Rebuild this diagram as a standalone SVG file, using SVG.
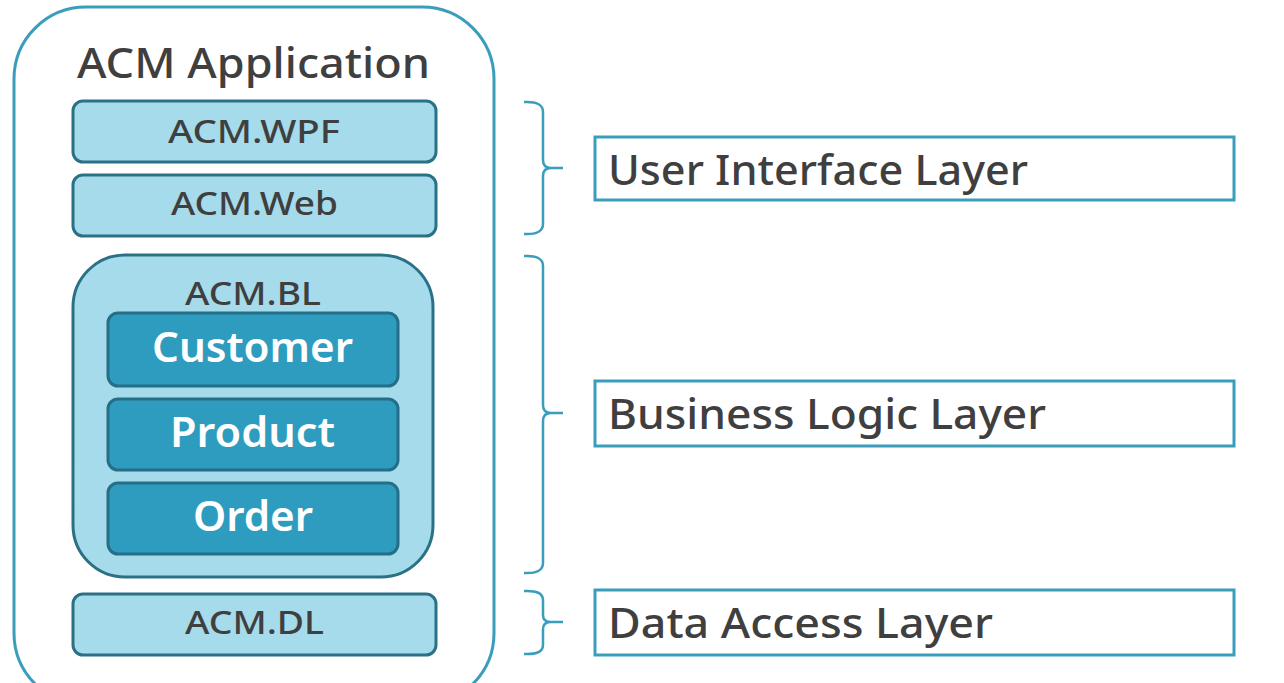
<svg xmlns="http://www.w3.org/2000/svg" width="1284" height="683" viewBox="0 0 1284 683">
<style>
.t{font-family:"Noto Sans","Open Sans",sans-serif;fill:#3f3f3f;text-anchor:middle;font-weight:500}
.w{font-family:"Noto Sans","Open Sans",sans-serif;fill:#ffffff;text-anchor:middle;font-weight:600;font-size:41px}
.lb{fill:#a6dbeb;stroke:#2a7186;stroke-width:3}
.db{fill:#2e9cbe;stroke:#246f87;stroke-width:3}
.lay{fill:#ffffff;stroke:#3a9dbb;stroke-width:3}
.br{fill:none;stroke:#3a9dbb;stroke-width:2.5}
.lt{font-family:"Noto Sans","Open Sans",sans-serif;fill:#3f3f3f;font-size:41px;font-weight:500}
</style>
<rect width="1284" height="683" fill="#ffffff"/>
<g id="app">
<rect x="14" y="7" width="480" height="698" rx="72" fill="#ffffff" stroke="#3a9dbb" stroke-width="3"/>
<text class="t" x="253.5" y="78" font-size="42" textLength="353" lengthAdjust="spacingAndGlyphs">ACM Application</text>
</g>
<g id="wpf"><rect class="lb" x="73" y="101" width="363" height="61" rx="10"/><text class="t" x="254" y="143" font-size="33" textLength="172" lengthAdjust="spacingAndGlyphs">ACM.WPF</text></g>
<g id="web"><rect class="lb" x="73" y="175" width="363" height="61" rx="10"/><text class="t" x="254.5" y="215" font-size="33" textLength="167" lengthAdjust="spacingAndGlyphs">ACM.Web</text></g>
<g id="bl">
<rect class="lb" x="73" y="255" width="360" height="322" rx="52"/>
<text class="t" x="253" y="305" font-size="33" textLength="136" lengthAdjust="spacingAndGlyphs">ACM.BL</text>
</g>
<g id="customer"><rect class="db" x="108" y="313" width="290" height="73" rx="10"/><text class="w" x="252.5" y="362" textLength="201" lengthAdjust="spacingAndGlyphs">Customer</text></g>
<g id="product"><rect class="db" x="108" y="399" width="290" height="71" rx="10"/><text class="w" x="252.5" y="447" textLength="165" lengthAdjust="spacingAndGlyphs">Product</text></g>
<g id="order"><rect class="db" x="108" y="483" width="290" height="71" rx="10"/><text class="w" x="253" y="531" textLength="120" lengthAdjust="spacingAndGlyphs">Order</text></g>
<g id="dl"><rect class="lb" x="73" y="594" width="363" height="61" rx="10"/><text class="t" x="254.5" y="634" font-size="33" textLength="139" lengthAdjust="spacingAndGlyphs">ACM.DL</text></g>
<g id="connectors">
<path class="br" d="M524 102 Q543 101 543 112 L543 160 Q543 168 551 168 L563 168 M551 168 Q543 168 543 176 L543 224 Q543 235 524 234"/>
<path class="br" d="M524 256 Q543 255 543 266 L543 405 Q543 413 551 413 L563 413 M551 413 Q543 413 543 421 L543 563 Q543 574 524 573"/>
<path class="br" d="M524 591 Q543 590 543 600 L543 615 Q543 622 551 622 L563 622 M551 622 Q543 622 543 629 L543 645 Q543 655 524 654"/>
</g>
<g id="ui"><rect class="lay" x="595" y="137" width="639" height="63"/><text class="lt" x="608" y="185" textLength="420" lengthAdjust="spacingAndGlyphs">User Interface Layer</text></g>
<g id="bll"><rect class="lay" x="595" y="381" width="639" height="65"/><text class="lt" x="608" y="429" textLength="438" lengthAdjust="spacingAndGlyphs">Business Logic Layer</text></g>
<g id="dal"><rect class="lay" x="595" y="590" width="639" height="65"/><text class="lt" x="608" y="638" textLength="385" lengthAdjust="spacingAndGlyphs">Data Access Layer</text></g>
</svg>
